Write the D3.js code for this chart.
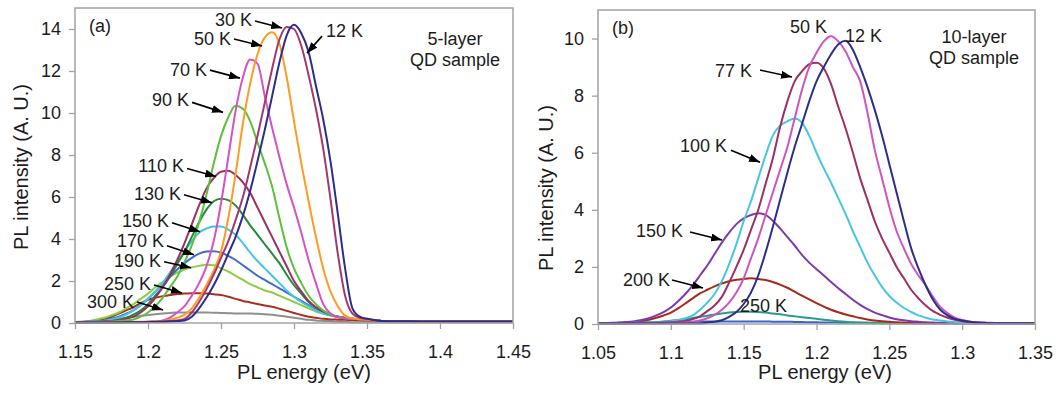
<!DOCTYPE html>
<html>
<head>
<meta charset="utf-8">
<script src="https://cdn.jsdelivr.net/npm/d3@7"></script>
<style>
  html, body { margin: 0; padding: 0; background: #fff; }
  svg { display: block; font-family: Arial, "Liberation Sans", sans-serif; }
</style>
</head>
<body>
<svg id="chart" width="1061" height="396"></svg>
<script>
// ---------------- Panel (a): 5-layer QD sample ----------------
const energyA = [1.150,1.155,1.160,1.165,1.170,1.175,1.180,1.185,1.190,1.195,
                 1.200,1.205,1.210,1.215,1.220,1.225,1.230,1.235,1.240,1.245,
                 1.250,1.255,1.260,1.265,1.270,1.275,1.280,1.285,1.290,1.295,
                 1.300,1.305,1.310,1.315,1.320,1.325,1.330,1.335,1.340,1.345,
                 1.350,1.355,1.360,1.380,1.400,1.420,1.450];

const plA_12K  = [0.02,0.02,0.02,0.02,0.02,0.02,0.02,0.03,0.03,0.03,0.04,0.05,0.06,0.07,0.09,
                  0.12,0.3,0.7,1.2,1.8,2.5,3.3,4.1,5.1,6.3,7.7,9.2,10.8,12.4,13.7,14.2,13.8,12.9,11.3,9.7,7.7,5.2,2.6,0.7,0.3,0.2,0.14,0.1,
                  0.08,0.07,0.07,0.07];
const plA_30K  = [0.02,0.02,0.02,0.02,0.02,0.02,0.03,0.03,0.03,0.04,0.05,0.06,0.07,0.09,0.12,
                  0.2,0.5,1.0,1.6,2.3,3.1,3.9,4.9,6.0,7.4,8.9,10.5,12.1,13.5,14.1,14.0,13.2,11.8,10.2,8.3,5.9,3.3,1.3,0.45,0.25,0.2,0.14,0.1,
                  0.08,0.07,0.07,0.07];
const plA_50K  = [0.02,0.02,0.02,0.03,0.03,0.03,0.04,0.04,0.05,0.06,0.07,0.08,0.1,
                  0.15,0.25,0.4,0.7,1.2,1.8,2.5,3.4,5.0,7.1,9.5,11.4,12.8,13.6,13.85,13.3,11.7,9.6,7.6,5.8,4.1,2.6,1.5,0.8,0.35,0.22,0.19,0.17,0.13,0.1,
                  0.08,0.07,0.07,0.07];
const plA_70K  = [0.02,0.02,0.02,0.03,0.03,0.03,0.04,0.04,0.05,0.05,
                  0.06,0.08,0.12,0.25,0.5,0.8,1.3,1.9,2.7,3.9,5.7,7.9,10.1,11.7,12.55,12.35,10.8,9.3,7.9,6.6,5.5,4.3,3.0,1.9,0.9,0.45,0.27,0.22,0.2,0.18,0.16,0.13,0.1,
                  0.08,0.07,0.07,0.07];
const plA_90K  = [0.02,0.02,0.03,0.04,0.05,0.07,0.09,0.12,
                  0.17,0.3,0.5,0.8,1.2,1.7,2.2,2.9,3.7,4.8,6.1,7.6,8.9,9.8,10.35,10.2,9.6,8.6,7.6,6.5,5.0,3.6,2.6,1.9,1.3,0.9,0.6,0.4,0.3,0.24,0.2,0.18,0.16,0.13,0.1,
                  0.08,0.07,0.07,0.07];
const plA_110K = [0.02,0.03,0.04,0.05,0.07,0.09,
                  0.12,0.2,0.3,0.5,0.8,1.2,1.7,2.3,3.0,3.8,4.7,5.6,6.4,6.9,7.2,7.25,7.05,6.7,6.2,5.5,4.8,4.1,3.4,2.7,2.0,1.5,1.05,0.75,0.55,0.4,0.3,0.24,0.2,0.18,0.16,0.13,0.1,
                  0.08,0.07,0.07,0.07];
const plA_130K = [0.02,0.03,0.04,0.06,0.08,
                  0.1,0.15,0.25,0.4,0.6,0.9,1.3,1.7,2.2,2.8,3.4,4.1,4.8,5.4,5.8,5.92,5.85,5.6,5.15,4.65,4.2,3.75,3.3,2.85,2.3,1.8,1.4,1.0,0.75,0.55,0.4,0.3,0.24,0.2,0.18,0.16,0.13,0.1,
                  0.08,0.07,0.07,0.07];
const plA_150K = [0.03,0.04,0.05,0.07,
                  0.1,0.17,0.25,0.4,0.6,0.85,1.15,1.5,1.9,2.4,2.9,3.4,3.9,4.3,4.5,4.6,4.6,4.45,4.2,3.8,3.35,2.95,2.6,2.25,1.9,1.55,1.25,1.0,0.8,0.6,0.45,0.35,0.28,0.23,0.2,0.18,0.16,0.13,0.1,
                  0.08,0.07,0.07,0.07];
const plA_170K = [0.03,0.05,0.07,0.09,
                  0.12,0.2,0.3,0.45,0.6,0.85,1.15,1.5,1.85,2.2,2.55,2.85,3.1,3.3,3.4,3.42,3.35,3.2,3.0,2.75,2.5,2.25,2.05,1.85,1.65,1.45,1.25,1.05,0.85,0.65,0.5,0.4,0.31,0.24,0.2,0.18,0.16,0.13,0.1,
                  0.08,0.07,0.07,0.07];
const plA_190K = [0.05,0.07,0.1,0.17,0.25,0.37,0.5,0.7,0.9,1.15,1.4,1.7,1.95,2.2,2.4,2.55,2.65,2.72,2.77,2.75,
                  2.6,2.45,2.25,2.05,1.85,1.7,1.55,1.45,1.3,1.15,1.0,0.85,0.7,0.55,0.45,0.37,0.3,0.24,0.2,0.18,0.16,0.13,0.1,
                  0.08,0.07,0.07,0.07];
const plA_250K = [0.02,0.05,0.08,0.12,0.2,0.3,0.45,0.6,0.75,0.95,1.1,1.2,1.28,1.33,1.38,1.4,1.42,1.42,1.4,1.37,
                  1.33,1.25,1.15,1.05,0.98,0.9,0.83,0.77,0.68,0.58,0.48,0.38,0.3,0.25,0.2,0.17,0.16,0.15,0.14,0.13,0.12,0.11,0.1,
                  0.08,0.07,0.07,0.07];
const plA_300K = [0.02,0.03,0.05,0.07,0.1,0.14,0.2,0.25,0.3,0.34,0.38,0.42,0.45,0.48,0.5,0.5,0.5,0.5,0.5,0.49,
                  0.48,0.47,0.45,0.45,0.45,0.44,0.42,0.39,0.35,0.3,0.25,0.2,0.15,0.12,0.1,0.08,0.06,0.05,0.04,0.04,0.03,0.03,0.03,
                  0.03,0.03,0.03,0.03];

const tempsA  = ["300 K","250 K","190 K","170 K","150 K","130 K","110 K","90 K","70 K","50 K","30 K","12 K"];
const valuesA = [plA_300K,plA_250K,plA_190K,plA_170K,plA_150K,plA_130K,plA_110K,plA_90K,plA_70K,plA_50K,plA_30K,plA_12K];
const colorsA = ["#8f8f8f","#ab2f1e","#8ccf3e","#3e6cce","#45c4e6","#23893c","#9c2f64","#5dc03c","#d253c6","#ff9b1e","#a3386e","#2d2d8c"];

const xTicksA = [1.15,1.2,1.25,1.3,1.35,1.4,1.45];
const yTicksA = [0,2,4,6,8,10,12,14];

// arrow labels: tip on the curve (energy, intensity), tail offset (px), text offset from tail (px)
const labelsA = [
  {t:"30 K",  e:1.2918, i:14.05, dx:-27, dy:-7,  tx:-3, ty:5},
  {t:"50 K",  e:1.2781, i:13.19, dx:-28, dy:-7,  tx:-3, ty:6},
  {t:"12 K",  e:1.3089, i:12.85, dx:15,  dy:-17, tx:4,  ty:1, start:true},
  {t:"70 K",  e:1.2630, i:11.66, dx:-30, dy:-8,  tx:-3, ty:6},
  {t:"90 K",  e:1.2514, i:10.03, dx:-31, dy:-10, tx:-3, ty:4},
  {t:"110 K", e:1.2466, i:6.98,  dx:-29, dy:-8,  tx:-3, ty:4},
  {t:"130 K", e:1.2438, i:5.73,  dx:-28, dy:-8,  tx:-3, ty:5},
  {t:"150 K", e:1.2356, i:4.35,  dx:-28, dy:-9,  tx:-3, ty:4},
  {t:"170 K", e:1.2315, i:3.25,  dx:-27, dy:-9,  tx:-3, ty:1},
  {t:"190 K", e:1.2295, i:2.63,  dx:-27, dy:-6,  tx:-3, ty:5},
  {t:"250 K", e:1.2233, i:1.43,  dx:-28, dy:-8,  tx:-3, ty:5},
  {t:"300 K", e:1.2103, i:0.62,  dx:-26, dy:-8,  tx:-3, ty:6}
];

// ---------------- Panel (b): 10-layer QD sample ----------------
const energyB = [1.050,1.055,1.060,1.065,1.070,1.075,1.080,1.085,1.090,1.095,
                 1.100,1.105,1.110,1.115,1.120,1.125,1.130,1.135,1.140,1.145,
                 1.150,1.155,1.160,1.165,1.170,1.175,1.180,1.185,1.190,1.195,
                 1.200,1.205,1.210,1.215,1.220,1.225,1.230,1.235,1.240,1.245,
                 1.250,1.255,1.260,1.265,1.270,1.275,1.280,1.285,1.290,1.295,
                 1.300,1.305,1.310,1.315,1.320,1.325,1.330,1.335,1.340,1.345,1.350];

const plB_12K  = [0.02,0.02,0.02,0.02,0.02,0.02,0.02,0.02,0.02,0.02,0.02,0.02,0.02,0.02,0.02,
                  0.05,0.08,0.13,0.25,0.42,0.7,1.1,1.7,2.5,3.4,4.35,5.3,6.2,7.0,7.8,8.5,9.0,9.45,9.8,9.92,9.6,9.0,8.3,7.5,6.6,
                  5.6,4.6,3.6,2.65,1.95,1.35,0.85,0.5,0.3,0.18,0.12,0.08,0.05,
                  0.04,0.03,0.03,0.03,0.03,0.03,0.03,0.03];
const plB_50K  = [0.02,0.02,0.02,0.02,0.02,0.02,0.02,0.03,0.03,0.03,0.04,0.04,0.05,
                  0.08,0.12,0.2,0.32,0.5,0.75,1.1,1.6,2.3,3.0,3.8,4.6,5.4,6.2,7.2,8.2,9.0,9.5,9.9,10.08,9.9,9.55,9.0,8.5,7.4,6.1,5.1,
                  4.1,3.25,2.65,2.1,1.7,1.35,0.95,0.6,0.38,0.22,0.14,0.09,0.06,
                  0.04,0.04,0.03,0.03,0.03,0.03,0.03,0.03];
const plB_77K  = [0.02,0.02,0.02,0.02,0.02,0.03,0.03,0.03,0.04,0.05,0.06,
                  0.08,0.11,0.17,0.27,0.45,0.65,0.95,1.45,2.0,2.6,3.3,4.0,4.9,5.8,6.9,7.8,8.5,8.85,9.1,9.15,8.95,8.4,7.6,6.85,6.0,
                  5.1,4.35,3.6,3.0,2.5,2.0,1.6,1.2,0.9,0.65,0.45,0.32,0.22,0.15,0.1,0.07,0.05,
                  0.04,0.03,0.03,0.03,0.03,0.03,0.03,0.03];
const plB_100K = [0.02,0.02,0.02,0.03,0.03,0.04,0.04,0.05,0.06,
                  0.08,0.1,0.14,0.2,0.3,0.5,0.75,1.05,1.5,2.1,2.8,3.6,4.3,5.1,5.9,6.6,6.95,7.1,7.2,7.05,6.6,6.0,5.45,4.95,4.4,3.85,
                  3.25,2.7,2.15,1.7,1.3,0.98,0.75,0.56,0.42,0.3,0.22,0.16,0.12,0.09,0.07,0.05,0.04,0.04,
                  0.03,0.03,0.03,0.03,0.03,0.03,0.03,0.03];
const plB_150K = [0.02,0.03,0.04,0.05,0.07,0.1,0.14,0.2,0.3,0.42,0.58,0.8,1.05,1.35,1.7,2.05,2.45,2.85,3.2,3.5,
                  3.7,3.82,3.88,3.82,3.62,3.35,3.05,2.75,2.42,2.15,1.92,1.7,1.47,1.25,1.05,0.85,0.67,0.52,0.4,0.31,
                  0.23,0.17,0.13,0.1,0.08,0.06,0.05,0.04,0.04,0.03,0.03,0.03,0.03,0.03,0.03,0.03,0.03,0.03,0.03,0.03,0.03];
const plB_200K = [0.02,0.02,0.03,0.04,0.05,0.07,0.1,0.15,0.22,0.3,0.4,0.55,0.72,0.9,1.07,1.2,1.32,1.42,1.5,1.55,
                  1.58,1.6,1.58,1.54,1.47,1.38,1.27,1.13,0.99,0.86,0.73,0.61,0.5,0.41,0.33,0.27,0.21,0.16,0.12,0.1,
                  0.08,0.06,0.05,0.04,0.04,0.03,0.03,0.03,0.03,0.03,0.03,0.03,0.03,0.03,0.03,0.03,0.03,0.03,0.03,0.03,0.03];
const plB_250K = [0.02,0.02,0.02,0.03,0.03,0.04,0.05,0.06,0.07,0.09,0.11,0.14,0.17,0.21,0.25,0.29,0.33,0.37,0.4,0.42,
                  0.43,0.43,0.42,0.4,0.37,0.34,0.3,0.27,0.24,0.21,0.18,0.15,0.12,0.1,0.08,
                  0.06,0.05,0.04,0.04,0.03,0.03,0.03,0.03,0.03,0.03,0.03,0.03,0.03,0.03,0.03,0.03,0.03,0.03,0.03,0.03,0.03,0.03,0.03,0.03,0.03,0.03];
const plB_300K = [0.03,0.03,0.03,0.03,0.04,0.04,0.05,0.05,0.06,0.06,0.07,0.07,0.08,0.08,0.08,0.09,0.09,0.09,0.09,0.09,
                  0.09,0.09,0.09,0.09,0.08,0.08,0.08,0.07,0.07,0.06,0.06,0.05,0.05,0.05,0.04,0.04,0.04,0.04,0.03,0.03,
                  0.03,0.03,0.03,0.03,0.03,0.03,0.03,0.03,0.03,0.03,0.03,0.03,0.03,0.03,0.03,0.03,0.03,0.03,0.03,0.03,0.03];

const tempsB  = ["300 K","250 K","200 K","150 K","100 K","77 K","50 K","12 K"];
const valuesB = [plB_300K,plB_250K,plB_200K,plB_150K,plB_100K,plB_77K,plB_50K,plB_12K];
const colorsB = ["#3a62d0","#2b9a88","#a52a1a","#7d3aaa","#47c6e4","#9e2f62","#cc55c0","#2b2f8c"];

const xTicksB = [1.05,1.1,1.15,1.2,1.25,1.3,1.35];
const yTicksB = [0,2,4,6,8,10];

const labelsB = [
  {t:"77 K",  e:1.1832, i:8.65, dx:-32, dy:-7,  tx:-8, ty:7},
  {t:"100 K", e:1.1612, i:5.67, dx:-29, dy:-12, tx:-4, ty:2},
  {t:"150 K", e:1.1351, i:2.94, dx:-32, dy:-8,  tx:-7, ty:5},
  {t:"200 K", e:1.1221, i:1.26, dx:-31, dy:-8,  tx:-2, ty:6}
];
// labels written straight next to their peaks (text start, baseline)
const plainLabelsB = [
  {t:"50 K",  e:1.1818, i:10.19},
  {t:"12 K",  e:1.2196, i:9.88},
  {t:"250 K", e:1.1475, i:0.42}
];

// ---------------- drawing ----------------
const svg = d3.select("#chart");
svg.append("rect").attr("width", 1061).attr("height", 396).attr("fill", "#fff");

const defs = svg.append("defs");
defs.append("marker")
  .attr("id", "arrowhead")
  .attr("viewBox", "0 0 11 8")
  .attr("refX", 11).attr("refY", 4)
  .attr("markerWidth", 11).attr("markerHeight", 8)
  .attr("markerUnits", "userSpaceOnUse")
  .attr("orient", "auto")
  .append("path").attr("d", "M0,0L11,4L0,8Z").attr("fill", "#000");

const FRAME = "#a3a3a3";
const INK = "#1c1c1c";

function drawPanel(p) {
  const x = d3.scaleLinear().domain(p.xDomain).range([p.left, p.right]);
  const y = d3.scaleLinear().domain(p.yDomain).range([p.bottom, p.top]);
  const g = svg.append("g");

  // spectra, hottest first so the coldest sits on top
  const line = d3.line()
    .x(d => x(d[0])).y(d => y(d[1]))
    .curve(d3.curveMonotoneX);
  const curves = g.append("g");
  p.values.forEach((vals, k) => {
    const pts = p.energy.map((e, j) => [e, vals[j]]);
    curves.append("path")
      .attr("d", line(pts))
      .attr("fill", "none")
      .attr("stroke", p.colors[k])
      .attr("stroke-width", 2)
      .attr("stroke-linejoin", "round");
  });

  // frame
  g.append("rect")
    .attr("x", p.left).attr("y", p.top)
    .attr("width", p.right - p.left).attr("height", p.bottom - p.top)
    .attr("fill", "none").attr("stroke", FRAME).attr("stroke-width", 1.5);

  // axes
  const yAxis = d3.axisLeft(y).tickValues(p.yTicks).tickSize(6).tickPadding(8).tickFormat(d => String(d));
  const xAxis = d3.axisBottom(x).tickValues(p.xTicks).tickSize(6).tickPadding(16).tickFormat(d => String(d));
  const ya = g.append("g").attr("transform", `translate(${p.left},0)`).call(yAxis);
  const xa = g.append("g").attr("transform", `translate(0,${p.bottom})`).call(xAxis);
  [ya, xa].forEach(a => {
    a.select(".domain").remove();
    a.selectAll(".tick line").attr("stroke", FRAME).attr("stroke-width", 1.3);
    a.selectAll(".tick text").attr("fill", INK).attr("font-size", 18)
      .attr("font-family", "Arial, 'Liberation Sans', sans-serif");
  });

  // axis titles
  g.append("text")
    .attr("x", p.xTitleX).attr("y", 379)
    .attr("text-anchor", "middle").attr("font-size", 20).attr("fill", INK)
    .text("PL energy (eV)");
  g.append("text")
    .attr("transform", `translate(${p.yTitleX},${p.yTitleY}) rotate(-90)`)
    .attr("text-anchor", "middle").attr("font-size", 20).attr("fill", INK)
    .text("PL intensity (A. U.)");

  // panel tag and sample name
  g.append("text").attr("x", p.left + 14).attr("y", p.top + 24)
    .attr("font-size", 18).attr("fill", INK).text(p.tag);
  p.sample.forEach((s, k) => {
    g.append("text").attr("x", p.sampleX).attr("y", p.sampleY + k * 20.5)
      .attr("text-anchor", "middle").attr("font-size", 18).attr("fill", INK).text(s);
  });

  // arrow labels
  p.labels.forEach(l => {
    const tipX = x(l.e), tipY = y(l.i);
    const tailX = tipX + l.dx, tailY = tipY + l.dy;
    g.append("line")
      .attr("x1", tailX).attr("y1", tailY).attr("x2", tipX).attr("y2", tipY)
      .attr("stroke", "#000").attr("stroke-width", 1.6)
      .attr("marker-end", "url(#arrowhead)");
    g.append("text")
      .attr("x", tailX + l.tx).attr("y", tailY + l.ty)
      .attr("text-anchor", l.start ? "start" : "end")
      .attr("font-size", 18).attr("fill", INK).text(l.t);
  });
  (p.plain || []).forEach(l => {
    g.append("text").attr("x", x(l.e)).attr("y", y(l.i))
      .attr("font-size", 18).attr("fill", INK).text(l.t);
  });
}

drawPanel({
  energy: energyA, values: valuesA, colors: colorsA,
  xDomain: [1.15, 1.45], yDomain: [0, 15],
  left: 75, right: 513, top: 8, bottom: 323,
  xTicks: xTicksA, yTicks: yTicksA,
  xTitleX: 304, yTitleX: 28, yTitleY: 167,
  tag: "(a)", sample: ["5-layer", "QD sample"], sampleX: 455, sampleY: 45,
  labels: labelsA
});

drawPanel({
  energy: energyB, values: valuesB, colors: colorsB,
  xDomain: [1.05, 1.35], yDomain: [0, 11],
  left: 598, right: 1035, top: 10, bottom: 324,
  xTicks: xTicksB, yTicks: yTicksB,
  xTitleX: 825, yTitleX: 553, yTitleY: 188,
  tag: "(b)", sample: ["10-layer", "QD sample"], sampleX: 974, sampleY: 43,
  labels: labelsB, plain: plainLabelsB
});
</script>
</body>
</html>
